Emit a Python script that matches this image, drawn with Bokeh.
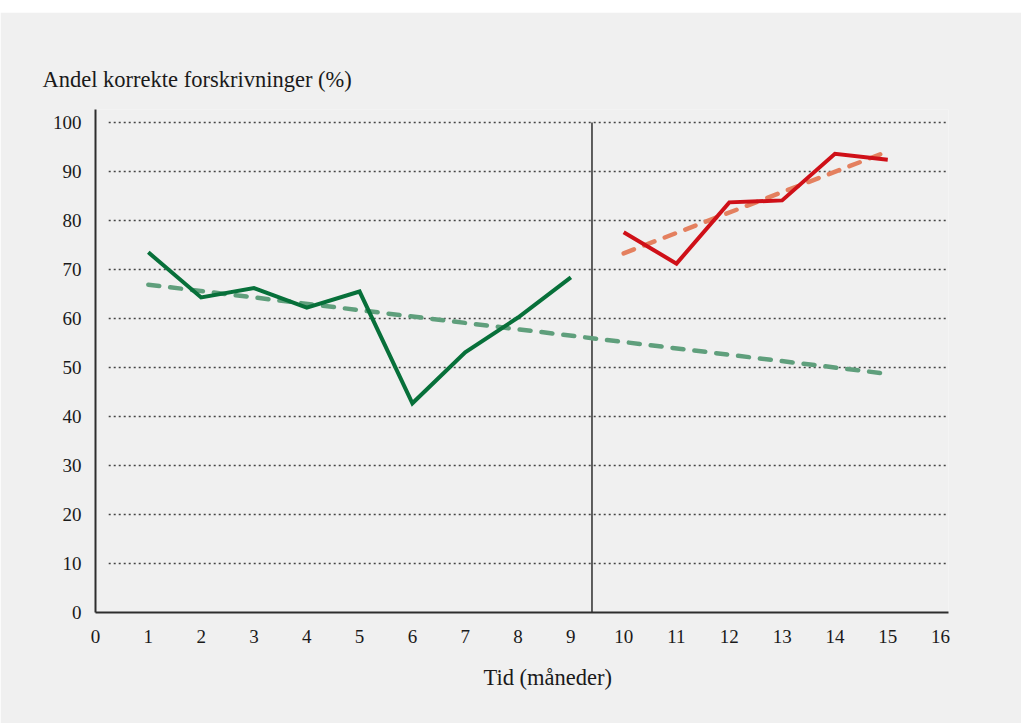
from bokeh.plotting import figure
from bokeh.models import Range1d, FixedTicker, Spacer, Title
from bokeh.layouts import column
from bokeh.embed import file_html
from bokeh.resources import INLINE

# ---- data ----
months_before = [1, 2, 3, 4, 5, 6, 7, 8, 9]
share_before = [73.5, 64.3, 66.2, 62.2, 65.5, 42.7, 53.1, 60.2, 68.4]
months_after = [10, 11, 12, 13, 14, 15]
share_after = [77.6, 71.2, 83.7, 84.1, 93.6, 92.4]
trend_before_x = [1, 15]
trend_before_y = [66.9, 48.7]
trend_after_x = [10, 15]
trend_after_y = [73.3, 94.1]
intervention_x = 9.4
x_ticks = list(range(0, 17))
y_ticks = list(range(0, 101, 10))
y_title = "Andel korrekte forskrivninger (%)"
x_title = "Tid (måneder)"

FONT = "Liberation Serif"
BG = "#f0f0f0"
AX = "#2e2e2e"

p = figure(width=1021, height=711, output_backend="svg", toolbar_location=None,
           x_range=Range1d(0, 16.15), y_range=Range1d(0, 102.65),
           min_border_left=95, min_border_right=73, min_border_top=97, min_border_bottom=111)
p.background_fill_color = BG
p.border_fill_color = BG
p.outline_line_color = None
p.xgrid.visible = False
p.ygrid.visible = False

for ax in (p.xaxis[0], p.yaxis[0]):
    ax.axis_line_color = AX
    ax.axis_line_width = 2
    ax.major_tick_line_color = None
    ax.minor_tick_line_color = None
    ax.major_label_text_font = FONT
    ax.major_label_text_font_size = "19px"
    ax.major_label_text_color = "#1a1a1a"
p.xaxis[0].ticker = FixedTicker(ticks=x_ticks)
p.yaxis[0].ticker = FixedTicker(ticks=y_ticks)
p.xaxis[0].major_label_standoff = 11
p.yaxis[0].major_label_standoff = 8

# dotted gridlines (start a little right of the y axis)
gy = [t for t in y_ticks if t > 0]
p.segment(x0=[0.25] * len(gy), x1=[16.15] * len(gy), y0=gy, y1=gy,
          line_color="#444444", line_width=1.6, line_dash="2 3")

# intervention divider
p.segment(x0=[intervention_x], x1=[intervention_x], y0=[0], y1=[100],
          line_color=AX, line_width=1.5)

# trend lines
p.line(trend_before_x, trend_before_y, line_color="#5f9f7c", line_width=4.5,
       line_dash="11 11", line_cap="round")
p.line(trend_after_x, trend_after_y, line_color="#e4805f", line_width=4.5,
       line_dash="11 11", line_cap="round")

# observed series
p.line(months_before, share_before, line_color="#07703a", line_width=4, line_join="miter")
p.line(months_after, share_after, line_color="#cf1018", line_width=4, line_join="miter")

# titles
p.add_layout(Title(text=y_title, align="left", offset=-53, standoff=35,
                   text_font=FONT, text_font_size="22.5px", text_font_style="normal",
                   text_color="#1a1a1a"), "above")
p.add_layout(Title(text=x_title, align="left", offset=388, standoff=35,
                   text_font=FONT, text_font_size="22.5px", text_font_style="normal",
                   text_color="#1a1a1a"), "below")

layout = column(Spacer(width=1021, height=12), p)
open("out.html", "w").write(file_html(layout, INLINE))
